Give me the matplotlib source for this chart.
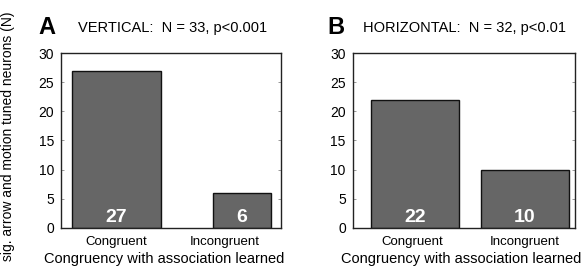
import matplotlib
matplotlib.use("Agg")
import matplotlib.pyplot as plt

plt.rcParams["font.family"] = ["Liberation Sans", "DejaVu Sans"]

categories = ["Congruent", "Incongruent"]
vertical_counts = [27, 6]
horizontal_counts = [22, 10]
panel_letters = ["A", "B"]
panel_titles = ["VERTICAL:  N = 33, p<0.001", "HORIZONTAL:  N = 32, p<0.01"]
yticks = [0, 5, 10, 15, 20, 25, 30]

# bar layout (axis fraction units)
bar_left = [[0.05, 0.69], [0.081, 0.58]]
bar_width = [[0.405, 0.265], [0.396, 0.393]]
tick_pos = [[0.25, 0.745], [0.27, 0.775]]
xlabel_x = [0.47, 0.49]

fig = plt.figure(figsize=(5.84, 2.72), dpi=100)
axes_rect = [[0.1045, 0.162, 0.377, 0.643], [0.604, 0.162, 0.380, 0.643]]
letter_x = [0.066, 0.561]
title_x = [0.134, 0.622]

for i, counts in enumerate([vertical_counts, horizontal_counts]):
    ax = fig.add_axes(axes_rect[i])
    ax.bar(bar_left[i], counts, width=bar_width[i], align="edge",
           color="#666666", edgecolor="#111111", linewidth=1.0, zorder=2)
    for x, w, c in zip(bar_left[i], bar_width[i], counts):
        ax.text(x + w / 2, 0.3, str(c), ha="center", va="bottom",
                color="white", fontsize=14, fontweight="bold", zorder=3)
    ax.set_xlim(0, 1)
    ax.set_ylim(0, 30)
    ax.set_yticks(yticks)
    ax.set_xticks(tick_pos[i])
    ax.set_xticklabels(categories, fontsize=9.5)
    ax.tick_params(axis="y", labelsize=10, direction="in", length=2,
                   right=True, width=0.6, pad=5, color="#888888")
    ax.tick_params(axis="x", length=0, pad=6)
    for s in ax.spines.values():
        s.set_linewidth(1.0)
        s.set_color("#222222")
    ax.set_xlabel("Congruency with association learned", fontsize=10.5)
    ax.xaxis.set_label_coords(xlabel_x[i], -0.14)
    fig.text(letter_x[i], 0.9, panel_letters[i], fontsize=17,
             fontweight="bold", va="center", ha="left")
    fig.text(title_x[i], 0.897, panel_titles[i], fontsize=10.5,
             va="center", ha="left")

fig.text(0.014, 0.5, "sig. arrow and motion tuned neurons (N)",
         rotation=90, fontsize=10, va="center", ha="center")

fig.savefig("out.png", dpi=100)
